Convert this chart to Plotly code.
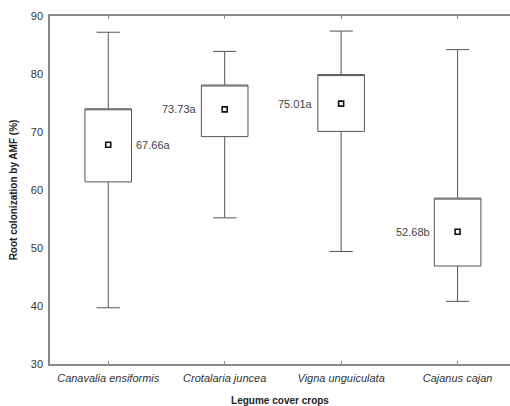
import plotly.graph_objects as go

categories = ["Canavalia ensiformis", "Crotalaria juncea", "Vigna unguiculata", "Cajanus cajan"]
upper_whisker = [87.2, 83.9, 87.4, 84.2]
q3_values = [74.0, 78.1, 79.9, 58.6]
q1_values = [61.4, 69.2, 70.1, 46.9]
lower_whisker = [39.7, 55.2, 49.4, 40.8]
mean_values = [67.8, 73.9, 74.9, 52.8]
mean_labels = ["67.66a", "73.73a", "75.01a", "52.68b"]
label_side = ["right", "left", "left", "left"]

fig = go.Figure()
fig.add_trace(go.Box(
    x=categories,
    q1=q1_values, median=q3_values, q3=q3_values,
    lowerfence=lower_whisker, upperfence=upper_whisker,
    width=0.4, whiskerwidth=0.5,
    line=dict(color="#555555", width=1),
    fillcolor="rgba(255,255,255,0)",
    boxpoints=False, hoverinfo="skip", showlegend=False,
))
fig.add_trace(go.Scatter(
    x=categories, y=mean_values, mode="markers",
    marker=dict(symbol="square", size=5, color="white",
                line=dict(color="#111111", width=1.6)),
    showlegend=False, hoverinfo="skip",
))
for c, m, t, s in zip(categories, mean_values, mean_labels, label_side):
    fig.add_annotation(
        x=c, y=m, text=t, showarrow=False,
        xanchor="left" if s == "right" else "right",
        xshift=26 if s == "right" else -26,
        font=dict(family="Liberation Sans, Arial", size=11, color="#444444"),
    )

fig.update_layout(
    width=510, height=406,
    margin=dict(l=50, r=0, t=16, b=42),
    paper_bgcolor="white", plot_bgcolor="white",
    font=dict(family="Liberation Sans, Arial", size=11, color="#333333"),
    xaxis=dict(
        range=[-0.5, 3.45], showgrid=False, zeroline=False, automargin=False,
        showline=True, linecolor="#888888", linewidth=1.5, mirror="ticks",
        ticks="inside", ticklen=3, tickcolor="#888888", ticklabelstandoff=3,
        tickfont=dict(family="Liberation Sans, Arial", size=11, color="#333333"),
        tickvals=categories, ticktext=["<i>%s</i>" % c for c in categories],
        title=dict(text="<b>Legume cover crops</b>", standoff=18,
                   font=dict(family="Liberation Sans, Arial", size=10, color="#222222")),
    ),
    yaxis=dict(
        range=[30, 90], dtick=10, showgrid=False, zeroline=False, automargin=False,
        showline=True, linecolor="#888888", linewidth=1.5,
        ticks="", ticklabelstandoff=3,
        tickfont=dict(family="Liberation Sans, Arial", size=11, color="#333333"),
        title=dict(text="<b>Root colonization by AMF (%)</b>", standoff=11,
                   font=dict(family="Liberation Sans, Arial", size=10, color="#222222")),
    ),
)

fig.write_html("out.html")
